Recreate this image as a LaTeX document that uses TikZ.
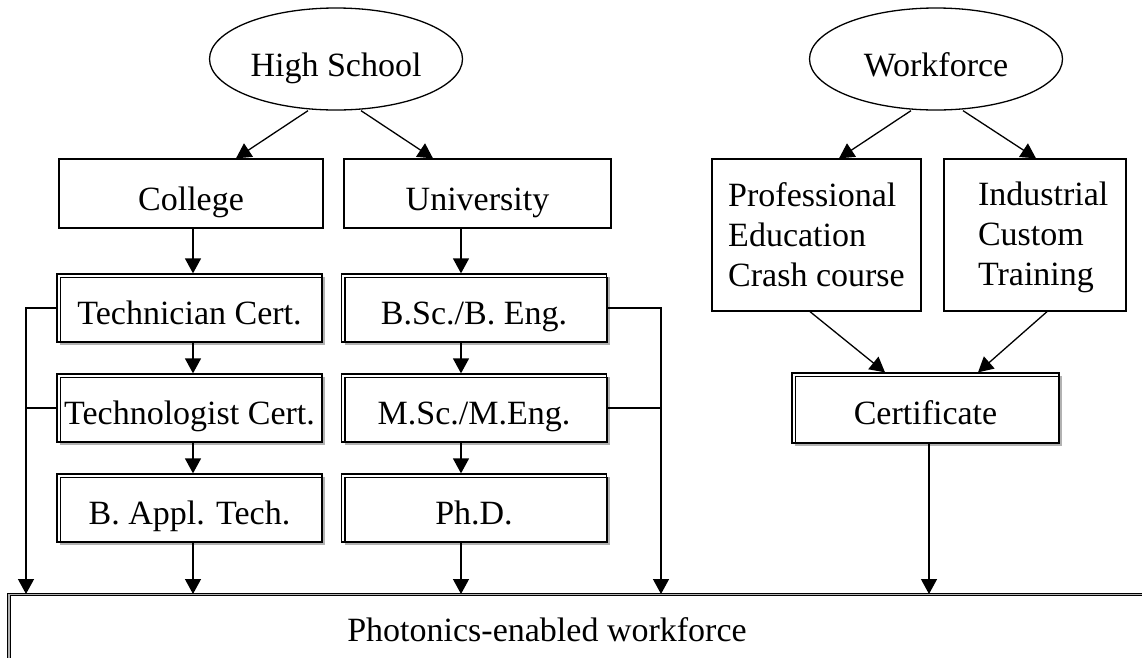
\documentclass[tikz,border=0pt]{standalone}
\usepackage{fontspec}
\setmainfont{Liberation Serif}
\usetikzlibrary{arrows.meta,shapes.geometric,shadows}
\begin{document}
\begin{tikzpicture}[x=1pt,y=-1pt,
  every node/.style={font=\fontsize{34pt}{40pt}\selectfont, inner sep=0pt},
  oval/.style={ellipse, draw, line width=1.3pt, minimum width=253pt, minimum height=102pt, text height=35pt, text depth=0pt},
  plainbox/.style={rectangle, draw, line width=1.3pt, fill=white},
  onebox/.style={plainbox, minimum height=69pt, text height=33pt, text depth=0pt},
  dbox/.style={rectangle, draw, line width=1.3pt, fill=white, minimum width=265pt, minimum height=68pt, text height=33pt, text depth=0pt,
    drop shadow={shadow xshift=3pt, shadow yshift=-3pt, fill=gray!60, opacity=1}},
  arr/.style={-{Triangle[length=15pt,width=16pt]}, line width=1.3pt},
  link/.style={line width=1.3pt}]
\useasboundingbox (0,0) rectangle (1142,657);
\clip (0,0) rectangle (1142,657);

% top level
\node[oval] (hs) at (336,59) {High School};
\node[oval] (wf) at (936,59) {Workforce};

% second level
\node[onebox, minimum width=264pt] (col) at (191,193.5) {College};
\node[onebox, minimum width=267pt] (uni) at (477.5,193.5) {University};
\node[plainbox, minimum width=209pt, minimum height=152pt, align=left, text depth=0pt] (prof) at (816.5,235) {Professional\\Education\\Crash course};
\node[plainbox, minimum width=182pt, minimum height=152pt, text width=114pt, align=left, text depth=83pt] (ind) at (1035,235) {Industrial\\Custom\\Training};

% degree boxes
\node[dbox] (tc) at (189.5,308) {Technician Cert.};
\node[dbox] (tg) at (189.5,408) {Technologist Cert.};
\node[dbox] (ba) at (189.5,508) {B. Appl. Tech.};
\node[dbox] (bs) at (474,308) {B.Sc./B. Eng.};
\node[dbox] (ms) at (474,408) {M.Sc./M.Eng.};
\node[dbox] (phd) at (474,508) {Ph.D.};
\node[dbox, minimum width=267pt, minimum height=70pt] (cert) at (925.5,408) {Certificate};

\foreach \n in {tc,tg,ba,bs,ms,phd,cert}
  \draw[line width=1.3pt] ([shift={(4,4)}]\n.north west) rectangle (\n.south east);

% bottom box
\node[draw, line width=1pt, double=gray!60, double distance=1.6pt, fill=white,
      minimum width=1171pt, minimum height=130pt] (pwbox) at (594.5,659.5) {};
\node[anchor=base] (pwt) at (547,641) {Photonics-enabled workforce};

% column coordinates
\coordinate (lx) at (26,0);
\coordinate (cx) at (193,0);
\coordinate (ux) at (461,0);
\coordinate (rx) at (661,0);
\coordinate (kx) at (929,0);

% connectors from ellipses
\draw[arr] ([xshift=-28pt]hs.south) -- ([xshift=45pt]col.north);
\draw[arr] ([xshift=25pt]hs.south) -- ([xshift=-44.5pt]uni.north);
\draw[arr] ([xshift=-25pt]wf.south) -- ([xshift=22.5pt]prof.north);
\draw[arr] ([xshift=27pt]wf.south) -- ([xshift=1pt]ind.north);
\draw[arr] ([xshift=-6.5pt]prof.south) -- ([xshift=-40.5pt]cert.north);
\draw[arr] ([xshift=12pt]ind.south) -- ([xshift=52.5pt]cert.north);

% college column
\draw[arr] (cx |- col.south) -- (cx |- tc.north);
\draw[arr] (cx |- tc.south) -- (cx |- tg.north);
\draw[arr] (cx |- tg.south) -- (cx |- ba.north);
\draw[arr] (cx |- ba.south) -- (cx |- pwbox.north);

% university column
\draw[arr] (ux |- uni.south) -- (ux |- bs.north);
\draw[arr] (ux |- bs.south) -- (ux |- ms.north);
\draw[arr] (ux |- ms.south) -- (ux |- phd.north);
\draw[arr] (ux |- phd.south) -- (ux |- pwbox.north);

% side brackets
\draw[arr] (tc.west) -| (lx |- pwbox.north);
\draw[link] (tg.west) -- (lx |- tg.west);
\draw[arr] (bs.east) -| (rx |- pwbox.north);
\draw[link] (ms.east) -- (rx |- ms.east);

% certificate down
\draw[arr] (kx |- cert.south) -- (kx |- pwbox.north);
\end{tikzpicture}
\end{document}
